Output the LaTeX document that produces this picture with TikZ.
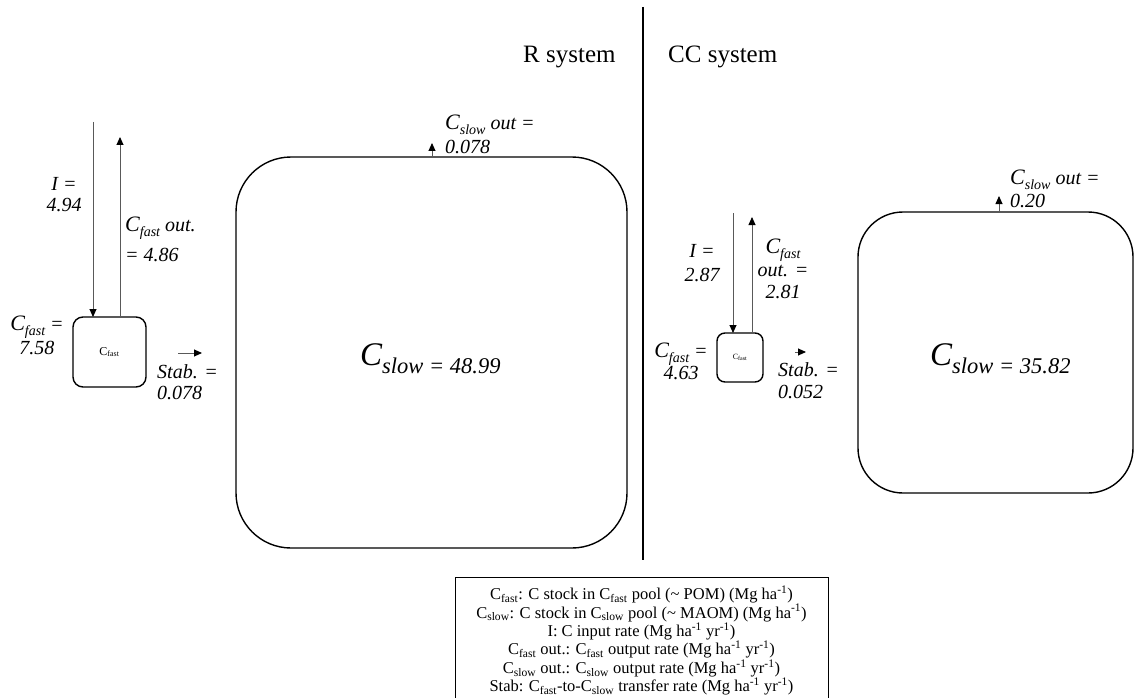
\documentclass[tikz,border=0pt]{standalone}
\usepackage{fontspec}
\setmainfont{Liberation Serif}
\usetikzlibrary{arrows.meta}
\colorlet{flowc}{black!65}
\tikzset{pool/.style={draw,line width=1.4pt,rounded corners=#1,inner sep=0pt,outer sep=0pt},
  flow/.style={flowc,line width=.9pt,-{Triangle[length=8pt,width=7pt,color=black]}},
  lbl/.style={font=\fontsize{20}{#1}\selectfont\itshape,inner sep=0pt},lbl/.default=20,
  title/.style={font=\fontsize{25}{25}\selectfont,inner sep=0pt,anchor=base west}}
\newcommand{\Cf}[1]{{\fontsize{22}{22}\selectfont C}\raisebox{-4.5pt}{\fontsize{14}{14}\selectfont #1}}
\newcommand{\Cbig}[1]{{\fontsize{33}{33}\selectfont C}\raisebox{-8pt}{\fontsize{22.5}{22.5}\selectfont slow = #1}}

\begin{document}
\begin{tikzpicture}[x=1pt,y=-1pt]
\useasboundingbox (0,0) rectangle (1135,698);
\coordinate (divtop) at (643,7);
\coordinate (divbot) at (643,560);
\draw[line width=2pt] (divtop) -- (divbot);
\node[title] (rtitle) at (523,63) {R system};
\node[title] (cctitle) at (668,63) {CC system};

\node[pool=10pt,minimum width=73,minimum height=70] (Rfast) at (109.5,352) {\fontsize{12}{12}\selectfont C\textsubscript{fast}};
\node[pool=55pt,minimum width=391,minimum height=391] (Rslow) at (431.5,352.5) {};
\node[inner sep=0pt,anchor=base west] (RslowLbl) at (360,365) {\itshape\Cbig{48.99}};
\coordinate (Rin) at (93,122);
\coordinate (Rout) at (120,137);
\coordinate (RstabA) at (178,353);
\coordinate (RstabB) at (202,353);
\coordinate (RslowOut) at (432,143);
\draw[flow] (Rin) -- (Rin |- Rfast.north);
\draw[flow] (Rout |- Rfast.north) -- (Rout);
\draw[flow] (RstabA) -- (RstabB);
\draw[flow] (RslowOut |- Rslow.north) -- (RslowOut);
\node[lbl=21,align=center,anchor=north] (RinLbl) at (64,177) {I =\\4.94};
\node[lbl=30,align=left,anchor=north west] (RoutLbl) at (125,217) {\Cf{fast} out.\\= 4.86};
\node[lbl=24,align=center,anchor=north] (RfastLbl) at (37,316) {\Cf{fast} =\\7.58};
\node[lbl=21,align=left,anchor=north west] (RstabLbl) at (157,364) {Stab. =\\0.078};
\node[lbl=24,align=left,anchor=north west] (RslowOutLbl) at (445,115) {\Cf{slow} out =\\0.078};

\node[pool=8pt,minimum width=46,minimum height=49] (Cfast) at (740,357.5) {\fontsize{8}{8}\selectfont C\textsubscript{fast}};
\node[pool=45pt,minimum width=275,minimum height=281] (Cslow) at (995.5,352.5) {};
\node[inner sep=0pt,anchor=base west] (CslowLbl) at (930,365) {\itshape\Cbig{35.82}};
\coordinate (Cin) at (733,213);
\coordinate (Cout) at (752,217);
\coordinate (CstabA) at (795,352);
\coordinate (CstabB) at (806,352);
\coordinate (CslowOut) at (999,196);
\draw[flow] (Cin) -- (Cin |- Cfast.north);
\draw[flow] (Cout |- Cfast.north) -- (Cout);
\draw[flow] (CstabA) -- (CstabB);
\draw[flow] (CslowOut |- Cslow.north) -- (CslowOut);
\node[lbl=24,align=center,anchor=north] (CinLbl) at (702,244) {I =\\2.87};
\node[lbl=22.5,align=center,anchor=north] (CoutLbl) at (783,239) {\Cf{fast}\\out. =\\2.81};
\node[lbl=22,align=center,anchor=north] (CfastLbl) at (681,343) {\Cf{fast} =\\4.63};
\node[lbl=22,align=left,anchor=north west] (CstabLbl) at (778,362) {Stab. =\\0.052};
\node[lbl=23,align=left,anchor=north west] (CslowOutLbl) at (1010,170) {\Cf{slow} out =\\0.20};

\node[draw,line width=1pt,minimum width=373,minimum height=133,inner sep=0pt] (legend) at (641.5,643.5) {};
\node[font=\fontsize{16.5}{16}\selectfont,align=center,inner sep=0pt,anchor=north] (legendtxt) at ([yshift=-9pt]legend.north)
  {C\textsubscript{fast}: C stock in C\textsubscript{fast} pool (\textasciitilde{} POM) (Mg ha\textsuperscript{-1})\\
   C\textsubscript{slow}: C stock in C\textsubscript{slow} pool (\textasciitilde{} MAOM) (Mg ha\textsuperscript{-1})\\
   I: C input rate (Mg ha\textsuperscript{-1} yr\textsuperscript{-1})\\
   C\textsubscript{fast} out.: C\textsubscript{fast} output rate (Mg ha\textsuperscript{-1} yr\textsuperscript{-1})\\
   C\textsubscript{slow} out.: C\textsubscript{slow} output rate (Mg ha\textsuperscript{-1} yr\textsuperscript{-1})\\
   Stab: C\textsubscript{fast}-to-C\textsubscript{slow} transfer rate (Mg ha\textsuperscript{-1} yr\textsuperscript{-1})};
\end{tikzpicture}
\end{document}
